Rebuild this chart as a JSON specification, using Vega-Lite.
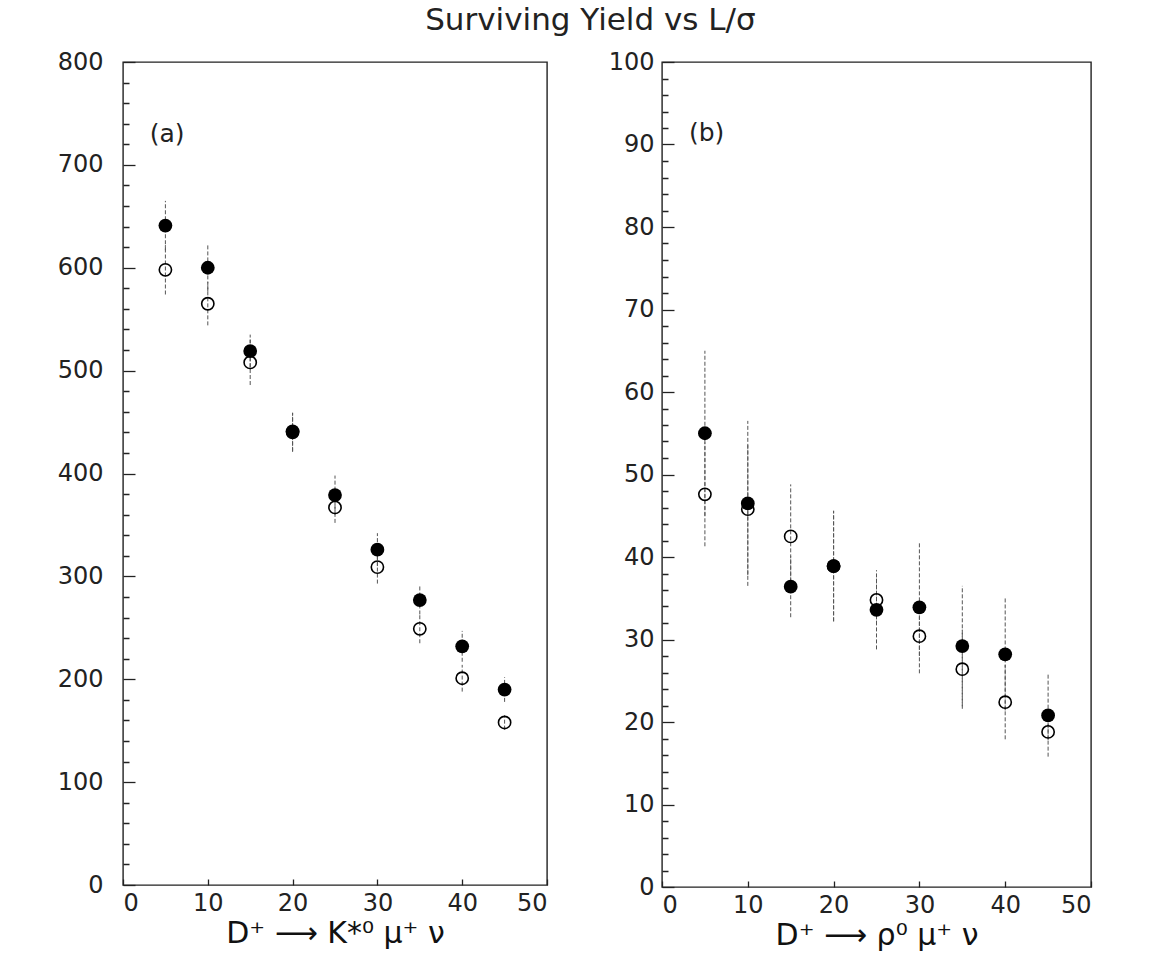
{
  "$schema": "https://vega.github.io/schema/vega-lite/v6.json",
  "background": "white",
  "padding": {"left": 56, "top": 5, "right": 5, "bottom": 5},
  "title": {"text": "Surviving Yield vs L/σ", "fontSize": 31, "font": "DejaVu Sans", "fontWeight": "normal", "color": "#222", "anchor": "middle", "offset": 12, "dx": 16},
  "datasets": {
    "a": [
      {"x": 5, "y": 598, "lo": 574, "hi": 622, "set": "open"},
      {"x": 10, "y": 565, "lo": 544, "hi": 586, "set": "open"},
      {"x": 15, "y": 508, "lo": 486, "hi": 530, "set": "open"},
      {"x": 20, "y": 440, "lo": 421, "hi": 459, "set": "open"},
      {"x": 25, "y": 367, "lo": 352, "hi": 382, "set": "open"},
      {"x": 30, "y": 309, "lo": 293, "hi": 325, "set": "open"},
      {"x": 35, "y": 249, "lo": 235, "hi": 263, "set": "open"},
      {"x": 40, "y": 201, "lo": 188, "hi": 214, "set": "open"},
      {"x": 45, "y": 158, "lo": 151, "hi": 165, "set": "open"},
      {"x": 5, "y": 641, "lo": 617, "hi": 665, "set": "filled"},
      {"x": 10, "y": 600, "lo": 577, "hi": 623, "set": "filled"},
      {"x": 15, "y": 519, "lo": 503, "hi": 535, "set": "filled"},
      {"x": 20, "y": 441, "lo": 422, "hi": 459, "set": "filled"},
      {"x": 25, "y": 379, "lo": 360, "hi": 398, "set": "filled"},
      {"x": 30, "y": 326, "lo": 310, "hi": 342, "set": "filled"},
      {"x": 35, "y": 277, "lo": 263, "hi": 291, "set": "filled"},
      {"x": 40, "y": 232, "lo": 217, "hi": 247, "set": "filled"},
      {"x": 45, "y": 190, "lo": 178, "hi": 202, "set": "filled"}
    ],
    "b": [
      {"x": 5, "y": 47.6, "lo": 41.3, "hi": 53.9, "set": "open"},
      {"x": 10, "y": 45.8, "lo": 37.8, "hi": 53.8, "set": "open"},
      {"x": 15, "y": 42.5, "lo": 36.2, "hi": 48.8, "set": "open"},
      {"x": 20, "y": 38.9, "lo": 32.2, "hi": 45.6, "set": "open"},
      {"x": 25, "y": 34.8, "lo": 31.8, "hi": 37.7, "set": "open"},
      {"x": 30, "y": 30.4, "lo": 28.0, "hi": 32.8, "set": "open"},
      {"x": 35, "y": 26.4, "lo": 21.6, "hi": 31.2, "set": "open"},
      {"x": 40, "y": 22.4, "lo": 17.9, "hi": 26.9, "set": "open"},
      {"x": 45, "y": 18.8, "lo": 17.8, "hi": 19.8, "set": "open"},
      {"x": 5, "y": 55.0, "lo": 45.0, "hi": 65.0, "set": "filled"},
      {"x": 10, "y": 46.5, "lo": 36.5, "hi": 56.5, "set": "filled"},
      {"x": 15, "y": 36.4, "lo": 32.7, "hi": 40.1, "set": "filled"},
      {"x": 20, "y": 38.9, "lo": 32.2, "hi": 45.6, "set": "filled"},
      {"x": 25, "y": 33.6, "lo": 28.8, "hi": 38.4, "set": "filled"},
      {"x": 30, "y": 33.9, "lo": 25.9, "hi": 41.9, "set": "filled"},
      {"x": 35, "y": 29.2, "lo": 21.9, "hi": 36.5, "set": "filled"},
      {"x": 40, "y": 28.2, "lo": 21.4, "hi": 35.0, "set": "filled"},
      {"x": 45, "y": 20.8, "lo": 15.8, "hi": 25.8, "set": "filled"}
    ]
  },
  "config": {
    "view": {"stroke": "#222", "strokeWidth": 1.4},
    "axis": {"grid": false, "domain": false, "labelOverlap": false, "tickColor": "#222", "tickWidth": 1.3, "labelFont": "DejaVu Sans", "labelFontSize": 24, "labelColor": "#222", "titleFont": "DejaVu Sans", "titleFontWeight": "normal", "titleColor": "#111"}
  },
  "spacing": 58,
  "hconcat": [
    {
      "width": 424,
      "height": 823,
      "layer": [
        {
          "data": {"name": "a"},
          "mark": {"type": "rule", "color": "#555", "strokeWidth": 1, "strokeDash": [4, 2]},
          "encoding": {
            "x": {"field": "x", "type": "quantitative"},
            "y": {"field": "lo", "type": "quantitative"},
            "y2": {"field": "hi"}
          }
        },
        {
          "data": {"name": "a"},
          "transform": [{"filter": "datum.set === 'open'"}],
          "mark": {"type": "point", "shape": "circle", "filled": false, "color": "#000", "strokeWidth": 1.6, "size": 150, "opacity": 1},
          "encoding": {
            "x": {"field": "x", "type": "quantitative"},
            "y": {"field": "y", "type": "quantitative"}
          }
        },
        {
          "data": {"name": "a"},
          "transform": [{"filter": "datum.set === 'filled'"}],
          "mark": {"type": "point", "shape": "circle", "filled": true, "color": "#000", "size": 190, "opacity": 1},
          "encoding": {
            "x": {"field": "x", "type": "quantitative", "scale": {"domain": [0, 50], "nice": false}, "axis": {"values": [0, 10, 20, 30, 40, 50], "format": "d", "labelOverlap": false, "offset": -6, "tickSize": 6, "labelPadding": 6, "title": "D⁺ ⟶ K*⁰ μ⁺ ν", "titleFontSize": 30, "titlePadding": 3}},
            "y": {"field": "y", "type": "quantitative", "scale": {"domain": [0, 800], "nice": false}, "axis": {"values": [0,20,40,60,80,100,120,140,160,180,200,220,240,260,280,300,320,340,360,380,400,420,440,460,480,500,520,540,560,580,600,620,640,660,680,700,720,740,760,780,800], "tickCount": 100, "format": "d", "labelExpr": "datum.value % 100 === 0 ? datum.label : ''", "labelOverlap": false, "labelBound": false, "offset": -12, "tickSize": 12, "tickDash": {"condition": {"test": "datum.value % 100 === 0", "value": [12, 0]}, "value": [0, 6, 6, 0]}, "labelPadding": 20, "title": null}}
          }
        },
        {
          "data": {"values": [{}]},
          "mark": {"type": "text", "text": "(a)", "font": "DejaVu Sans", "fontSize": 25, "color": "#222"},
          "encoding": {"x": {"datum": 5.2}, "y": {"datum": 730}}
        }
      ]
    },
    {
      "width": 429,
      "height": 825,
      "layer": [
        {
          "data": {"name": "b"},
          "mark": {"type": "rule", "color": "#555", "strokeWidth": 1, "strokeDash": [4, 2]},
          "encoding": {
            "x": {"field": "x", "type": "quantitative"},
            "y": {"field": "lo", "type": "quantitative"},
            "y2": {"field": "hi"}
          }
        },
        {
          "data": {"name": "b"},
          "transform": [{"filter": "datum.set === 'open'"}],
          "mark": {"type": "point", "shape": "circle", "filled": false, "color": "#000", "strokeWidth": 1.6, "size": 150, "opacity": 1},
          "encoding": {
            "x": {"field": "x", "type": "quantitative"},
            "y": {"field": "y", "type": "quantitative"}
          }
        },
        {
          "data": {"name": "b"},
          "transform": [{"filter": "datum.set === 'filled'"}],
          "mark": {"type": "point", "shape": "circle", "filled": true, "color": "#000", "size": 190, "opacity": 1},
          "encoding": {
            "x": {"field": "x", "type": "quantitative", "scale": {"domain": [0, 50], "nice": false}, "axis": {"values": [0, 10, 20, 30, 40, 50], "format": "d", "labelOverlap": false, "offset": -6, "tickSize": 6, "labelPadding": 6, "title": "D⁺ ⟶ ρ⁰ μ⁺ ν", "titleFontSize": 30, "titlePadding": 3}},
            "y": {"field": "y", "type": "quantitative", "scale": {"domain": [0, 100], "nice": false}, "axis": {"values": [0,2,4,6,8,10,12,14,16,18,20,22,24,26,28,30,32,34,36,38,40,42,44,46,48,50,52,54,56,58,60,62,64,66,68,70,72,74,76,78,80,82,84,86,88,90,92,94,96,98,100], "tickCount": 100, "format": "d", "labelExpr": "datum.value % 10 === 0 ? datum.label : ''", "labelOverlap": false, "labelBound": false, "offset": -12, "tickSize": 12, "tickDash": {"condition": {"test": "datum.value % 10 === 0", "value": [12, 0]}, "value": [0, 6, 6, 0]}, "labelPadding": 8, "title": null}}
          }
        },
        {
          "data": {"values": [{}]},
          "mark": {"type": "text", "text": "(b)", "font": "DejaVu Sans", "fontSize": 25, "color": "#222"},
          "encoding": {"x": {"datum": 5.2}, "y": {"datum": 91.4}}
        }
      ]
    }
  ]
}
